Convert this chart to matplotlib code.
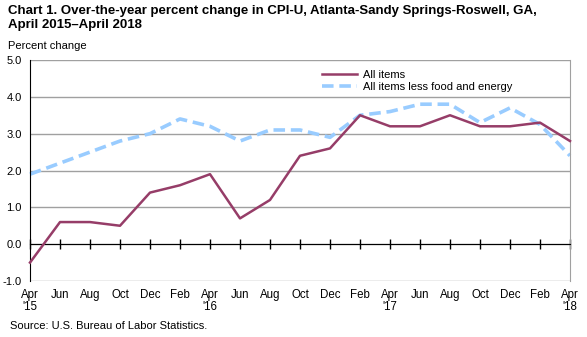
#!/usr/bin/env python3

import matplotlib
matplotlib.use("Agg")
import matplotlib.pyplot as plt

months = ["Apr\n'15", "Jun", "Aug", "Oct", "Dec", "Feb",
          "Apr\n'16", "Jun", "Aug", "Oct", "Dec", "Feb",
          "Apr\n'17", "Jun", "Aug", "Oct", "Dec", "Feb",
          "Apr\n'18"]
all_items = [-0.5, 0.6, 0.6, 0.5, 1.4, 1.6, 1.9, 0.7, 1.2, 2.4,
             2.6, 3.5, 3.2, 3.2, 3.5, 3.2, 3.2, 3.3, 2.8]
core = [1.9, 2.2, 2.5, 2.8, 3.0, 3.4, 3.2, 2.8, 3.1, 3.1,
        2.9, 3.5, 3.6, 3.8, 3.8, 3.3, 3.7, 3.25, 2.4]
yticks = [-1.0, 0.0, 1.0, 2.0, 3.0, 4.0, 5.0]

plt.rcParams["font.family"] = ["Liberation Sans", "DejaVu Sans"]

W, H = 587, 337
fig = plt.figure(figsize=(W / 100, H / 100), dpi=100)
ax = fig.add_axes([30 / W, 1 - 281 / H, 540 / W, 221 / H])

x = list(range(len(months)))
ax.plot(x, all_items, color="#963d68", lw=1.8, label="All items",
        zorder=3, clip_on=False)
ax.plot(x, core, color="#99ccff", lw=2.6, ls=(0, (3.2, 1.6)),
        label="All items less food and energy", zorder=2, clip_on=False)

ax.set_xlim(0, len(months) - 1)
ax.set_ylim(-1, 5)
ax.set_yticks(yticks)
ax.set_yticklabels(["{:.1f}".format(v) for v in yticks], fontsize=8)
ax.tick_params(axis="y", length=0, pad=6)
for v in yticks:
    ax.axhline(v, color="#a0a0a0", lw=1.0, zorder=1)

ax.spines["top"].set_visible(False)
ax.spines["right"].set_color("#a0a0a0")
ax.spines["left"].set_color("black")
ax.spines["bottom"].set_position(("data", 0))
ax.spines["bottom"].set_color("black")
ax.spines["bottom"].set_zorder(2.5)
ax.set_xticks(x)
ax.set_xticklabels([])
ax.tick_params(axis="x", direction="inout", length=7, width=1,
               color="black")

sec = ax.secondary_xaxis("bottom")
sec.set_xticks(x)
sec.set_xticklabels(months, fontsize=8.3, linespacing=1.0)
sec.tick_params(length=0, pad=6)
sec.spines["bottom"].set_visible(False)

ax.legend(loc="upper left", bbox_to_anchor=(316 / W, 1 - 64 / H),
          bbox_transform=fig.transFigure, frameon=False, fontsize=8,
          handlelength=3.2, handletextpad=0.5, borderpad=0,
          labelspacing=0.25)

fig.text(8 / W, 1 - 5 / H,
         "Chart 1. Over-the-year percent change in CPI-U, "
         "Atlanta-Sandy Springs-Roswell, GA,\nApril 2015\u2013April 2018",
         fontsize=9.5, fontweight="bold", va="top", ha="left",
         linespacing=1.2)
fig.text(8 / W, 1 - 46 / H, "Percent change", fontsize=8, va="center")
fig.text(10 / W, 1 - 326 / H, "Source: U.S. Bureau of Labor Statistics.",
         fontsize=8, va="center")

fig.savefig("out.png", dpi=100)
